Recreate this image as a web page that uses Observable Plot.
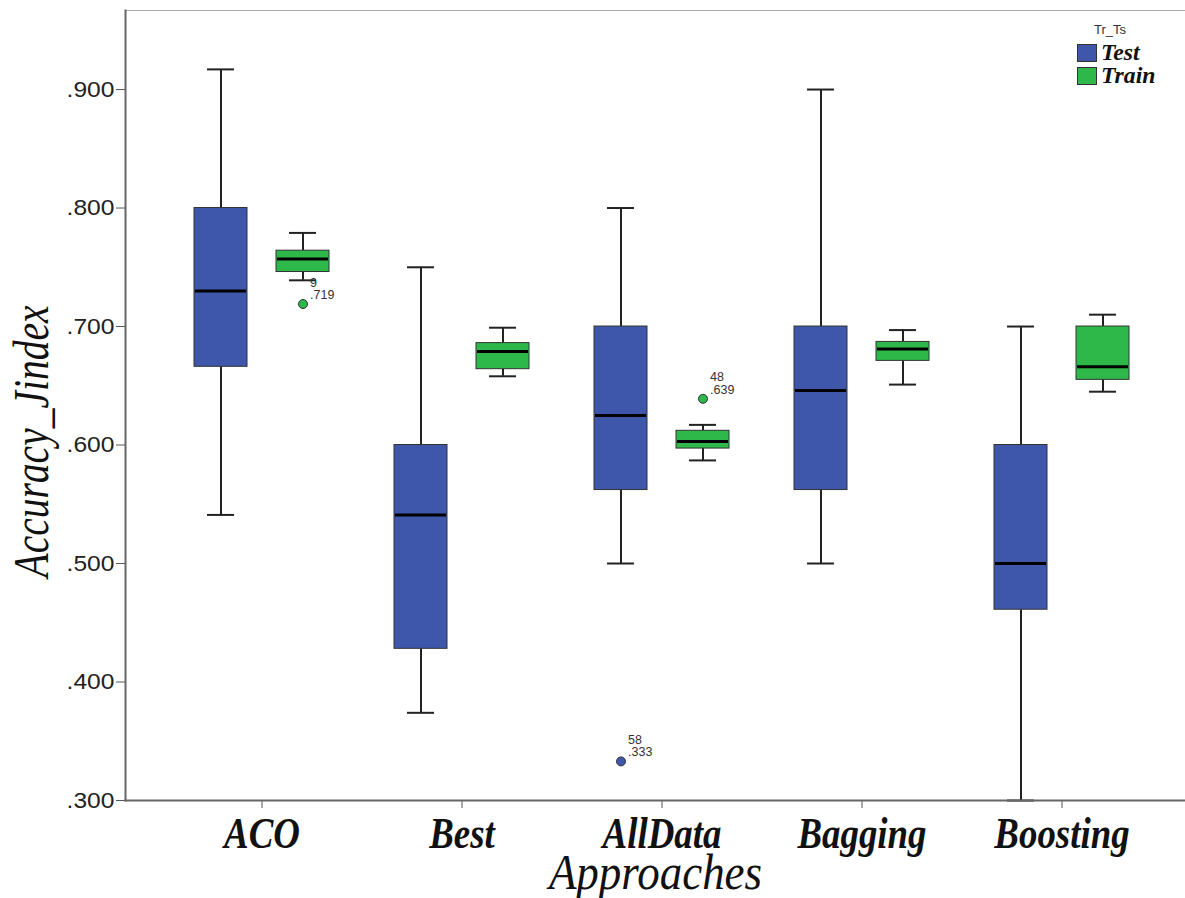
<!DOCTYPE html>
<html><head><meta charset="utf-8">
<script src="https://cdn.jsdelivr.net/npm/d3@7"></script>
<script src="https://cdn.jsdelivr.net/npm/@observablehq/plot@0.6"></script>
<style>
html,body{margin:0;padding:0;background:#fff;overflow:hidden}
#wrap{position:relative;width:1185px;height:898px}
#legend{position:absolute;left:0;top:0;width:1185px;height:0}
.lg-title{position:absolute;left:1080px;width:60px;top:22px;text-align:center;font:13px "Liberation Sans",Arial,sans-serif;color:#333}
.lg-sw{position:absolute;left:1077px;width:20px;height:18px;border:1px solid #333;box-sizing:border-box}
.lg-tx{position:absolute;left:1101px;font:italic bold 23px "Liberation Serif","Times New Roman",serif;color:#111;line-height:22px;transform-origin:0 0;transform:scale(1.03,1)}
</style></head>
<body><div id="wrap"><div id="chart"></div><div id="legend"></div></div>
<script>
// ---- data ----
const approaches = ["ACO", "Best", "AllData", "Bagging", "Boosting"];
const groups = ["Test", "Train"];
const groupColors = ["#3F57AB", "#2EB84A"];

const testLow    = [0.541, 0.374, 0.500, 0.500, 0.300];
const testQ1     = [0.666, 0.428, 0.562, 0.562, 0.461];
const testMedian = [0.730, 0.541, 0.625, 0.646, 0.500];
const testQ3     = [0.800, 0.600, 0.700, 0.700, 0.600];
const testHigh   = [0.917, 0.750, 0.800, 0.900, 0.700];

const trainLow    = [0.739, 0.658, 0.587, 0.651, 0.645];
const trainQ1     = [0.746, 0.664, 0.597, 0.671, 0.655];
const trainMedian = [0.757, 0.679, 0.603, 0.681, 0.666];
const trainQ3     = [0.764, 0.686, 0.612, 0.687, 0.700];
const trainHigh   = [0.779, 0.699, 0.617, 0.697, 0.710];

const outlierApproach = ["ACO", "AllData", "AllData"];
const outlierGroup    = ["Train", "Test", "Train"];
const outlierValue    = [0.719, 0.333, 0.639];
const outlierCase     = ["9", "58", "48"];

const yTicks = [0.3, 0.4, 0.5, 0.6, 0.7, 0.8, 0.9];
const yLabel = "Accuracy_Jindex";
const xLabel = "Approaches";
const legendTitle = "Tr_Ts";

// ---- build tables ----
const stats = [];
approaches.forEach((a, i) => {
  stats.push({approach: a, group: "Test", low: testLow[i], q1: testQ1[i], median: testMedian[i], q3: testQ3[i], high: testHigh[i]});
  stats.push({approach: a, group: "Train", low: trainLow[i], q1: trainQ1[i], median: trainMedian[i], q3: trainQ3[i], high: trainHigh[i]});
});
const outliers = outlierValue.map((v, i) => ({approach: outlierApproach[i], group: outlierGroup[i], value: v, case: outlierCase[i]}));

const fmt = v => d3.format(".3f")(v).replace(/^0/, "");
const groupDx = {Test: -41, Train: 41};
const serif = "Liberation Serif, Times New Roman, serif";
const sans = "Liberation Sans, Arial, sans-serif";

const marks = [
  Plot.frame({anchor: "top", stroke: "#aaa", strokeWidth: 1}),
];
for (const g of groups) {
  const S = stats.filter(d => d.group === g);
  const O = outliers.filter(d => d.group === g);
  const dx = groupDx[g];
  marks.push(
    Plot.ruleX(S, {x: "approach", y1: "low", y2: "q1", stroke: "#222", strokeWidth: 2, dx}),
    Plot.ruleX(S, {x: "approach", y1: "q3", y2: "high", stroke: "#222", strokeWidth: 2, dx}),
    Plot.tickY(S, {x: "approach", y: "low", stroke: "#222", strokeWidth: 2, insetLeft: 13, insetRight: 13, dx}),
    Plot.tickY(S, {x: "approach", y: "high", stroke: "#222", strokeWidth: 2, insetLeft: 13, insetRight: 13, dx}),
    Plot.barY(S, {x: "approach", y1: "q1", y2: "q3", fill: "group", stroke: "#333", strokeWidth: 1, dx}),
    Plot.tickY(S, {x: "approach", y: "median", stroke: "#000", strokeWidth: 3, insetLeft: 1, insetRight: 1, dx}),
    Plot.dot(O, {x: "approach", y: "value", fill: "group", stroke: "#333", strokeWidth: 1, r: 4.5, dx}),
    Plot.text(O, {x: "approach", y: "value", text: d => d.case + "\n" + fmt(d.value), textAnchor: "start", lineAnchor: "bottom",
      lineHeight: 1.0, fontSize: 12.5, fill: "#333", fontFamily: sans, dx: dx + 7, dy: -5})
  );
}
marks.push(
  Plot.axisY(yTicks, {tickFormat: fmt, tickSize: 9, tickPadding: 2, stroke: "#555", fill: "#222", fontSize: 22,
    fontFamily: sans, label: null}),
  Plot.axisX({tickSize: 8, tickFormat: () => "", stroke: "#555", label: null}),
  Plot.frame({anchor: "left", stroke: "#666", strokeWidth: 2}),
  Plot.frame({anchor: "bottom", stroke: "#666", strokeWidth: 2}),
  Plot.text(approaches, {x: d => d, frameAnchor: "bottom", dy: 47, lineAnchor: "bottom", text: d => d,
    fontFamily: serif, fontStyle: "italic", fontWeight: "bold", fontSize: 45, fill: "#111"}),
  Plot.text([xLabel], {frameAnchor: "bottom", dy: 88, lineAnchor: "bottom", textAnchor: "middle", text: d => d,
    fontFamily: serif, fontStyle: "italic", fontSize: 50, fill: "#111"}),
  Plot.text([yLabel], {frameAnchor: "left", dx: -78, dy: 36, rotate: -90, lineAnchor: "bottom", textAnchor: "middle", text: d => d,
    fontFamily: serif, fontStyle: "italic", fontSize: 50, fill: "#111"})
);

const chart = Plot.plot({
  width: 1185,
  height: 898,
  marginTop: 10,
  marginBottom: 98,
  marginLeft: 125,
  marginRight: 0,
  style: {background: "#fff", fontFamily: sans, overflow: "visible"},
  x: {domain: approaches, range: [125, 1198], paddingInner: 0.735, paddingOuter: 0.55, axis: null},
  y: {domain: [0.3, 0.9667], axis: null},
  color: {domain: groups, range: groupColors},
  marks
});
document.getElementById("chart").appendChild(chart);

// scale text glyphs horizontally (about their anchor point) to mimic the reference's condensed/stretched faces
function squeeze(match, sx) {
  chart.querySelectorAll("text").forEach(t => {
    if (!match(t.textContent)) return;
    const x = parseFloat(t.getAttribute("x")) || 0;
    const tr = t.getAttribute("transform") || "";
    t.setAttribute("transform", `${tr} translate(${x},0) scale(${sx},1) translate(${-x},0)`);
  });
}
const approachSet = new Set(approaches);
const tickSet = new Set(yTicks.map(fmt));
squeeze(s => approachSet.has(s), 0.82);
squeeze(s => s === yLabel, 0.79);
squeeze(s => s === xLabel, 0.9);
squeeze(s => tickSet.has(s), 1.12);

// legend
const lg = document.getElementById("legend");
const title = document.createElement("div");
title.className = "lg-title"; title.textContent = legendTitle; lg.appendChild(title);
groups.forEach((g, i) => {
  const sw = document.createElement("div");
  sw.className = "lg-sw"; sw.style.top = (44 + i * 23) + "px"; sw.style.background = groupColors[i];
  lg.appendChild(sw);
  const tx = document.createElement("div");
  tx.className = "lg-tx"; tx.style.top = (42 + i * 23) + "px"; tx.textContent = g;
  lg.appendChild(tx);
});
</script>
</body></html>
